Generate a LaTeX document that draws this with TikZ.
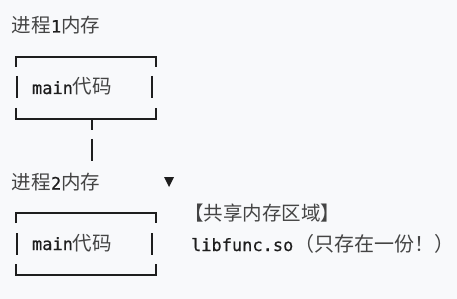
\documentclass[tikz,border=0pt]{standalone}
\usepackage{fontspec}
\setmainfont{Noto Sans CJK SC}
\newfontfamily\monofont[FakeBold=0.6]{DejaVu Sans Mono}
\definecolor{bgcol}{HTML}{F8F9FB}
\definecolor{inkcol}{HTML}{1E1E1E}
\definecolor{cjkcol}{HTML}{444444}
\begin{document}
\begin{tikzpicture}[x=1pt,y=-1pt,
  art/.style={draw=inkcol,line width=1.4pt},
  txt/.style={inner sep=0pt,outer sep=0pt,anchor=base west,text=cjkcol,font=\fontsize{19.5}{22}\selectfont},
  mono/.style={font=\fontsize{17}{20}\monofont,text=inkcol}]
\fill[bgcol] (0,0) rectangle (457,299);
\useasboundingbox (0,0) rectangle (457,299);
% titles
\node[txt] (t1) at (12,32.5) {进程{\monofont\fontsize{17}{20}\selectfont\color{inkcol}1}内存};
\node[txt] (t2) at (12,189.5) {进程{\monofont\fontsize{17}{20}\selectfont\color{inkcol}2}内存};
% box 1
\draw[art] (16,67) -- (16,57) -- (156,57) -- (156,67);
\draw[art] (17,76) -- (17,98);
\draw[art] (152,76) -- (152,98);
\draw[art] (16,108) -- (16,119) -- (156,119) -- (156,108);
\node[txt] (m1) at (32,94) {{\monofont\fontsize{17}{20}\selectfont\color{inkcol}main}代码};
% stem and arrow head
\coordinate (s1) at (92,120);
\coordinate (s2) at (92,130);
\coordinate (s3) at (92,139);
\coordinate (s4) at (92,161);
\draw[art] (s1) -- (s2);
\draw[art] (s3) -- (s4);
\fill[inkcol] (164,177) -- (174,177) -- (169,187) -- cycle;
% box 2
\draw[art] (16,223) -- (16,213) -- (156,213) -- (156,223);
\draw[art] (17,233) -- (17,255);
\draw[art] (152,233) -- (152,255);
\draw[art] (16,264) -- (16,275) -- (156,275) -- (156,264);
\node[txt] (m2) at (32,250) {{\monofont\fontsize{17}{20}\selectfont\color{inkcol}main}代码};
% shared region
\node[txt] (sh) at (184,220) {【共享内存区域】};
\node[txt,mono] (lib) at (191,251) {libfunc.so};
\node[txt,font=\fontsize{20}{22}\selectfont] (note) at ([xshift=1pt]lib.base east) {（只存在一份！）};
\end{tikzpicture}
\end{document}
